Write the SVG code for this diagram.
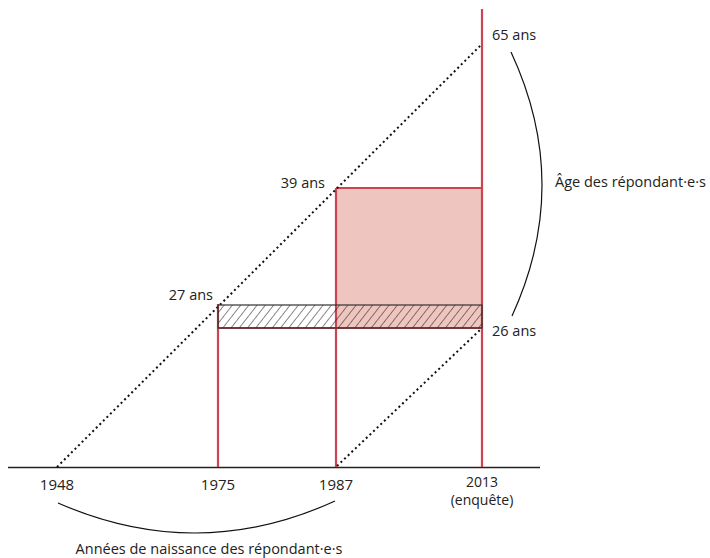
<svg xmlns="http://www.w3.org/2000/svg" width="710" height="558" viewBox="0 0 710 558">
<style>
.t{font-family:"Open Sans","Noto Sans",sans-serif;font-size:14.5px;fill:#222}
.y{font-size:15px}
.s{font-size:14px}
.red{stroke:#cc4452;stroke-width:2.2;fill:none}
.dot{stroke:#111;stroke-width:2;stroke-dasharray:2 3;fill:none}
.thin{stroke:#111;stroke-width:1.2;fill:none}
</style>
<defs>
<pattern id="hatch" patternUnits="userSpaceOnUse" width="6.5" height="10" patternTransform="rotate(38)">
<line x1="0" y1="0" x2="0" y2="10" stroke="#111" stroke-width="1"/>
</pattern>
</defs>
<rect width="710" height="558" fill="#fff"/>
<g id="pink-zone">
<rect x="336" y="188" width="146" height="140" fill="#efc6bf"/>
</g>
<g id="connectors">
<line x1="8" y1="467.5" x2="540" y2="467.5" stroke="#222" stroke-width="1.5"/>
<line class="red" x1="218" y1="304" x2="218" y2="467"/>
<line class="red" x1="336" y1="188" x2="336" y2="467"/>
<line class="red" x1="482" y1="9" x2="482" y2="467"/>
<line class="red" x1="336" y1="188" x2="482" y2="188"/>
<line class="red" x1="218" y1="328" x2="482" y2="328"/>
<line class="dot" x1="57" y1="467" x2="481" y2="45"/>
<line class="dot" x1="337" y1="466" x2="481" y2="329"/>
<path class="thin" d="M511,52 Q572.5,184 512,316"/>
<path class="thin" d="M58,503 Q197.5,564 335,501"/>
</g>
<g id="hatched-zone">
<rect x="218" y="305" width="264" height="23" fill="url(#hatch)" stroke="#333" stroke-width="1.2"/>
</g>
<g id="labels">
<text class="t" x="492" y="40">65 ans</text>
<text class="t" x="325" y="188" text-anchor="end">39 ans</text>
<text class="t" x="213" y="300" text-anchor="end">27 ans</text>
<text class="t" x="492" y="336">26 ans</text>
<text class="t" x="555" y="187">Âge des répondant·e·s</text>
<text class="t y" x="57" y="490" text-anchor="middle">1948</text>
<text class="t y" x="218" y="490" text-anchor="middle">1975</text>
<text class="t y" x="336" y="490" text-anchor="middle">1987</text>
<text class="t s" x="482" y="487" text-anchor="middle">2013</text>
<text class="t s" x="482" y="505" text-anchor="middle">(enquête)</text>
<text class="t" x="209" y="554" text-anchor="middle">Années de naissance des répondant·e·s</text>
</g>
</svg>
